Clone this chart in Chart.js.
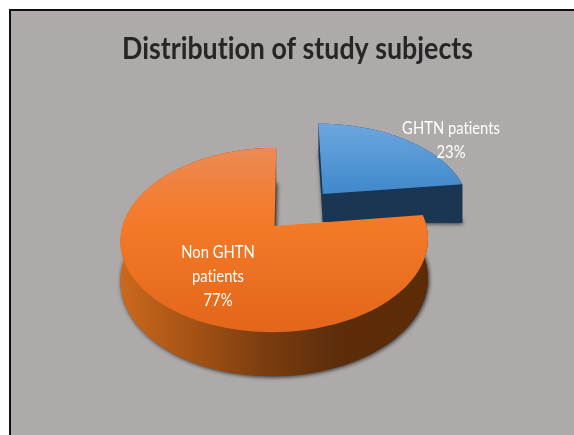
<!DOCTYPE html>
<html>
<head>
<meta charset="utf-8">
<script src="https://cdn.jsdelivr.net/npm/chart.js@4"></script>
<style>
    html, body { margin: 0; padding: 0; background: #fff; width: 574px; height: 435px; overflow: hidden; }
    #panel { position: absolute; left: 9px; top: 9px; right: 0; bottom: 0; background: #aeaaa9; border-left: 2px solid #111; border-top: 2px solid #111; }
    #migrafico { position: absolute; left: 0; top: 0; }
</style>
</head>
<body>
<div id="panel"></div>
<canvas id="migrafico" width="574" height="435"></canvas>
<script>
const titulo = 'Distribution of study subjects';
const categorias = ['GHTN patients', 'Non GHTN patients'];
const valores = [23, 77];
const lineasEtiqueta = [['GHTN patients'], ['Non GHTN', 'patients']];

// how the flat pie gets laid on the slanted plane
const centroX = 274.5;
const centroY = 226;
const escalaX = 152;
const escalaY = 90;
const perspectiva = 0.152;
const inclinacion = 2;
const separacion = [0.5, 0];
const posEtiqueta = [[451, 128], [218, 252]];

// wall height of each slice, blue one is shallower at the back
const alturaPared = [
    (u, v) => 24 + 11 * u,
    (u, v) => 39 + 5 * v
];

function proyectar(u, v) {
    const w = 1 - perspectiva * v;
    return { x: centroX + (escalaX * u - inclinacion * v) / w, y: centroY + escalaY * v / w };
}

function trazarSector(ctx, arc, i, bajo) {
    const mid = (arc.startAngle + arc.endAngle) / 2;
    const ox = Math.cos(mid) * separacion[i];
    const oy = Math.sin(mid) * separacion[i];
    const punto = (u, v) => {
        const p = proyectar(u, v);
        return { x: p.x, y: p.y + (bajo ? alturaPared[i](u, v) : 0) };
    };
    ctx.beginPath();
    const a = punto(ox, oy);
    ctx.moveTo(a.x, a.y);
    for (let k = 0; k <= 120; k++) {
        const t = arc.startAngle + (arc.endAngle - arc.startAngle) * k / 120;
        const p = punto(ox + Math.cos(t), oy + Math.sin(t));
        ctx.lineTo(p.x, p.y);
    }
    ctx.closePath();
}

function trazarPared(ctx, arc, i) {
    const mid = (arc.startAngle + arc.endAngle) / 2;
    const ox = Math.cos(mid) * separacion[i];
    const oy = Math.sin(mid) * separacion[i];
    const arriba = [];
    const abajo = [];
    const pasos = 120;
    for (let k = 0; k <= pasos; k++) {
        const t = arc.startAngle + (arc.endAngle - arc.startAngle) * k / pasos;
        const u = ox + Math.cos(t);
        const v = oy + Math.sin(t);
        const p = proyectar(u, v);
        arriba.push(p);
        abajo.push({ x: p.x, y: p.y + alturaPared[i](u, v) });
    }
    ctx.beginPath();
    arriba.forEach((p, k) => k ? ctx.lineTo(p.x, p.y) : ctx.moveTo(p.x, p.y));
    abajo.reverse().forEach(p => ctx.lineTo(p.x, p.y));
    ctx.closePath();
}

const colorPared = (ctx, i) => {
    if (i === 0) return '#1b3653';
    const g = ctx.createLinearGradient(120, 0, 430, 0);
    g.addColorStop(0, '#cb691c');
    g.addColorStop(0.26, '#a05014');
    g.addColorStop(0.47, '#7a3d10');
    g.addColorStop(0.7, '#5d2d0a');
    g.addColorStop(1, '#5c2c09');
    return g;
};

const colorTapa = (ctx, i) => {
    if (i === 0) {
        const g = ctx.createLinearGradient(0, 124, 0, 194);
        g.addColorStop(0, '#6ca6de');
        g.addColorStop(1, '#3f88cb');
        return g;
    }
    const g = ctx.createLinearGradient(0, 148, 0, 332);
    g.addColorStop(0, '#ec8a54');
    g.addColorStop(0.4, '#f47a28');
    g.addColorStop(1, '#e3661a');
    return g;
};

const pie3d = {
    id: 'pie3d',
    beforeDatasetDraw(chart, args) {
        const ctx = chart.ctx;
        const arcos = args.meta.data;
        ctx.save();
        arcos.forEach((arc, i) => {
            // soft shadow comes from the lower face only
            ctx.save();
            ctx.shadowColor = 'rgba(0,0,0,0.75)';
            ctx.shadowBlur = 4;
            ctx.shadowOffsetX = 1;
            ctx.shadowOffsetY = 1;
            trazarSector(ctx, arc, i, true);
            ctx.fillStyle = colorPared(ctx, i);
            ctx.fill();
            ctx.restore();

            trazarPared(ctx, arc, i);
            ctx.fillStyle = colorPared(ctx, i);
            ctx.fill();

            if (i === 0) {
                // front cut of the blue slice
                const mid = (arc.startAngle + arc.endAngle) / 2;
                const ox = Math.cos(mid) * separacion[i];
                const oy = Math.sin(mid) * separacion[i];
                const a = proyectar(ox, oy);
                const ua = ox + Math.cos(arc.endAngle);
                const va = oy + Math.sin(arc.endAngle);
                const b = proyectar(ua, va);
                ctx.beginPath();
                ctx.moveTo(a.x, a.y);
                ctx.lineTo(b.x, b.y);
                ctx.lineTo(b.x, b.y + alturaPared[i](ua, va));
                ctx.lineTo(a.x, a.y + alturaPared[i](ox, oy));
                ctx.closePath();
                ctx.fillStyle = '#1b3653';
                ctx.fill();
            }

            trazarSector(ctx, arc, i, false);
            ctx.fillStyle = colorTapa(ctx, i);
            ctx.fill();
        });
        ctx.restore();
        return false;
    },
    afterDraw(chart) {
        const ctx = chart.ctx;
        ctx.save();
        ctx.textRendering = 'optimizeSpeed';
        ctx.textAlign = 'center';

        // title is narrower than any font here, so it goes through maxWidth
        ctx.fillStyle = '#262626';
        ctx.font = 'bold 31px Lato';
        ctx.textBaseline = 'alphabetic';
        ctx.fillText(titulo, 297.5, 59, 351);

        ctx.fillStyle = '#ffffff';
        ctx.font = '18px Lato';
        ctx.textBaseline = 'middle';
        valores.forEach((valor, i) => {
            const lineas = lineasEtiqueta[i].concat(valor + '%');
            lineas.forEach((texto, n) => {
                const ancho = ctx.measureText(texto).width * 0.82;
                ctx.fillText(texto, posEtiqueta[i][0], posEtiqueta[i][1] + n * 24, ancho);
            });
        });
        ctx.restore();
    }
};

const myChart = new Chart(document.getElementById('migrafico').getContext('2d'), {
    type: 'pie',
    data: {
        labels: categorias,
        datasets: [{
            data: valores,
            backgroundColor: ['#4a90d0', '#f47a28'],
            borderWidth: 0
        }]
    },
    options: {
        responsive: false,
        animation: false,
        plugins: {
            legend: { display: false },
            tooltip: { enabled: false }
        }
    },
    plugins: [pie3d]
});
</script>
</body>
</html>
